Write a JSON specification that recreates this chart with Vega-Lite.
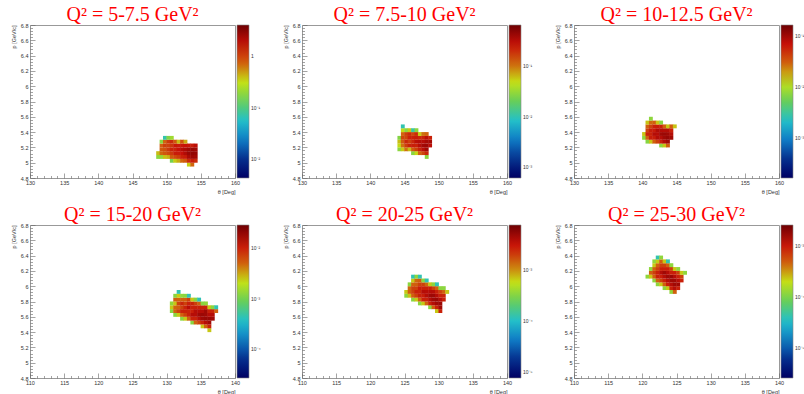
{
  "$schema": "https://vega.github.io/schema/vega-lite/v6.json",
  "background": "white",
  "padding": {"left": 10, "top": 4, "right": 0, "bottom": 0},
  "config": {
    "view": {"stroke": "#999", "strokeWidth": 1},
    "font": "Liberation Sans",
    "title": {"font": "Liberation Serif", "fontSize": 20, "fontWeight": "normal", "color": "#ff0000", "offset": -2, "anchor": "middle"},
    "axis": {"domain": false, "grid": false, "labelFont": "Liberation Sans", "labelFontSize": 5.5, "labelColor": "#333", "tickColor": "#666", "tickWidth": 0.6, "titleFont": "Liberation Sans", "titleFontSize": 5.5, "titleFontWeight": "normal", "titleColor": "#333", "titleAnchor": "end", "labelPadding": 7, "labelFlush": false, "labelOverlap": false},
    "axisX": {"titlePadding": 1},
    "axisY": {"titlePadding": 4},
    "legend": {"orient": "right", "offset": 2, "padding": 0, "gradientLength": 153, "gradientThickness": 12, "labelFont": "Liberation Sans", "labelFontSize": 5, "labelColor": "#333", "gradientStrokeColor": "#888", "gradientStrokeWidth": 0.6, "labelOffset": 2, "direction": "vertical"},
    "square": {"size": 15, "opacity": 1, "strokeWidth": 0}
  },
  "datasets": {
    "d1": [
      {"t":148.75,"p":5.075,"v":0.19},{"t":148.75,"p":5.125,"v":0.4},
      {"t":149.25,"p":5.075,"v":0.2},{"t":149.25,"p":5.125,"v":0.7},{"t":149.25,"p":5.175,"v":0.8},{"t":149.25,"p":5.225,"v":0.75},{"t":149.25,"p":5.275,"v":0.18},
      {"t":149.75,"p":5.075,"v":0.38},{"t":149.75,"p":5.125,"v":0.8},{"t":149.75,"p":5.175,"v":0.85},{"t":149.75,"p":5.225,"v":1.05},{"t":149.75,"p":5.275,"v":0.72},{"t":149.75,"p":5.325,"v":0.07},
      {"t":150.25,"p":5.075,"v":0.42},{"t":150.25,"p":5.125,"v":0.9},{"t":150.25,"p":5.175,"v":1.1},{"t":150.25,"p":5.225,"v":1.0},{"t":150.25,"p":5.275,"v":1.1},{"t":150.25,"p":5.325,"v":0.17},
      {"t":150.75,"p":5.025,"v":0.15},{"t":150.75,"p":5.075,"v":0.78},{"t":150.75,"p":5.125,"v":1.1},{"t":150.75,"p":5.175,"v":1.4},{"t":150.75,"p":5.225,"v":1.15},{"t":150.75,"p":5.275,"v":1.3},{"t":150.75,"p":5.325,"v":0.22},
      {"t":151.25,"p":5.025,"v":0.36},{"t":151.25,"p":5.075,"v":0.9},{"t":151.25,"p":5.125,"v":1.5},{"t":151.25,"p":5.175,"v":1.4},{"t":151.25,"p":5.225,"v":1.6},{"t":151.25,"p":5.275,"v":0.8},
      {"t":151.75,"p":5.025,"v":0.45},{"t":151.75,"p":5.075,"v":1.05},{"t":151.75,"p":5.125,"v":1.5},{"t":151.75,"p":5.175,"v":1.7},{"t":151.75,"p":5.225,"v":1.5},{"t":151.75,"p":5.275,"v":0.4},
      {"t":152.25,"p":5.025,"v":0.7},{"t":152.25,"p":5.075,"v":1.4},{"t":152.25,"p":5.125,"v":1.7},{"t":152.25,"p":5.175,"v":2.0},{"t":152.25,"p":5.225,"v":1.6},{"t":152.25,"p":5.275,"v":0.85},
      {"t":152.75,"p":5.025,"v":0.8},{"t":152.75,"p":5.075,"v":1.5},{"t":152.75,"p":5.125,"v":2.1},{"t":152.75,"p":5.175,"v":2.2},{"t":152.75,"p":5.225,"v":1.7},{"t":152.75,"p":5.275,"v":0.45},
      {"t":153.25,"p":4.975,"v":0.35},{"t":153.25,"p":5.025,"v":1.3},{"t":153.25,"p":5.075,"v":2.2},{"t":153.25,"p":5.125,"v":2.6},{"t":153.25,"p":5.175,"v":2.5},{"t":153.25,"p":5.225,"v":1.6},
      {"t":153.75,"p":4.975,"v":0.7},{"t":153.75,"p":5.025,"v":1.5},{"t":153.75,"p":5.075,"v":2.5},{"t":153.75,"p":5.125,"v":2.8},{"t":153.75,"p":5.175,"v":2.7},{"t":153.75,"p":5.225,"v":1.5},
      {"t":154.25,"p":5.025,"v":1.3},{"t":154.25,"p":5.075,"v":2.4},{"t":154.25,"p":5.125,"v":2.7},{"t":154.25,"p":5.175,"v":2.5},{"t":154.25,"p":5.225,"v":1.9}
    ],
    "d2": [
      {"t":144.25,"p":5.175,"v":0.028},{"t":144.25,"p":5.225,"v":0.05},{"t":144.25,"p":5.275,"v":0.06},{"t":144.25,"p":5.325,"v":0.026},
      {"t":144.75,"p":5.175,"v":0.055},{"t":144.75,"p":5.225,"v":0.1},{"t":144.75,"p":5.275,"v":0.12},{"t":144.75,"p":5.325,"v":0.15},{"t":144.75,"p":5.375,"v":0.11},{"t":144.75,"p":5.425,"v":0.05},{"t":144.75,"p":5.475,"v":0.01},
      {"t":145.25,"p":5.175,"v":0.1},{"t":145.25,"p":5.225,"v":0.16},{"t":145.25,"p":5.275,"v":0.21},{"t":145.25,"p":5.325,"v":0.15},{"t":145.25,"p":5.375,"v":0.16},{"t":145.25,"p":5.425,"v":0.028},
      {"t":145.75,"p":5.175,"v":0.06},{"t":145.75,"p":5.225,"v":0.22},{"t":145.75,"p":5.275,"v":0.16},{"t":145.75,"p":5.325,"v":0.22},{"t":145.75,"p":5.375,"v":0.2},{"t":145.75,"p":5.425,"v":0.055},
      {"t":146.25,"p":5.125,"v":0.027},{"t":146.25,"p":5.175,"v":0.12},{"t":146.25,"p":5.225,"v":0.23},{"t":146.25,"p":5.275,"v":0.21},{"t":146.25,"p":5.325,"v":0.22},{"t":146.25,"p":5.375,"v":0.15},{"t":146.25,"p":5.425,"v":0.011},
      {"t":146.75,"p":5.125,"v":0.05},{"t":146.75,"p":5.175,"v":0.16},{"t":146.75,"p":5.225,"v":0.22},{"t":146.75,"p":5.275,"v":0.3},{"t":146.75,"p":5.325,"v":0.23},{"t":146.75,"p":5.375,"v":0.2},{"t":146.75,"p":5.425,"v":0.028},
      {"t":147.25,"p":5.125,"v":0.11},{"t":147.25,"p":5.175,"v":0.22},{"t":147.25,"p":5.225,"v":0.31},{"t":147.25,"p":5.275,"v":0.32},{"t":147.25,"p":5.325,"v":0.21},{"t":147.25,"p":5.375,"v":0.055},
      {"t":147.75,"p":5.125,"v":0.15},{"t":147.75,"p":5.175,"v":0.3},{"t":147.75,"p":5.225,"v":0.38},{"t":147.75,"p":5.275,"v":0.31},{"t":147.75,"p":5.325,"v":0.22},{"t":147.75,"p":5.375,"v":0.1},
      {"t":148.25,"p":5.075,"v":0.028},{"t":148.25,"p":5.125,"v":0.21},{"t":148.25,"p":5.175,"v":0.38},{"t":148.25,"p":5.225,"v":0.4},{"t":148.25,"p":5.275,"v":0.36},{"t":148.25,"p":5.325,"v":0.3},{"t":148.25,"p":5.375,"v":0.11},
      {"t":148.75,"p":5.225,"v":0.3},{"t":148.75,"p":5.275,"v":0.37},{"t":148.75,"p":5.325,"v":0.22}
    ],
    "d3": [
      {"t":140.25,"p":5.325,"v":0.0075},{"t":140.25,"p":5.375,"v":0.015},
      {"t":140.75,"p":5.275,"v":0.007},{"t":140.75,"p":5.325,"v":0.03},{"t":140.75,"p":5.375,"v":0.058},{"t":140.75,"p":5.425,"v":0.042},{"t":140.75,"p":5.475,"v":0.03},{"t":140.75,"p":5.525,"v":0.015},
      {"t":141.25,"p":5.275,"v":0.015},{"t":141.25,"p":5.325,"v":0.06},{"t":141.25,"p":5.375,"v":0.057},{"t":141.25,"p":5.425,"v":0.06},{"t":141.25,"p":5.475,"v":0.041},{"t":141.25,"p":5.525,"v":0.028},{"t":141.25,"p":5.575,"v":0.0075},
      {"t":141.75,"p":5.275,"v":0.03},{"t":141.75,"p":5.325,"v":0.06},{"t":141.75,"p":5.375,"v":0.082},{"t":141.75,"p":5.425,"v":0.062},{"t":141.75,"p":5.475,"v":0.058},{"t":141.75,"p":5.525,"v":0.03},
      {"t":142.25,"p":5.275,"v":0.042},{"t":142.25,"p":5.325,"v":0.084},{"t":142.25,"p":5.375,"v":0.08},{"t":142.25,"p":5.425,"v":0.085},{"t":142.25,"p":5.475,"v":0.06},{"t":142.25,"p":5.525,"v":0.015},
      {"t":142.75,"p":5.225,"v":0.0074},{"t":142.75,"p":5.275,"v":0.06},{"t":142.75,"p":5.325,"v":0.083},{"t":142.75,"p":5.375,"v":0.1},{"t":142.75,"p":5.425,"v":0.084},{"t":142.75,"p":5.475,"v":0.058},{"t":142.75,"p":5.525,"v":0.007},
      {"t":143.25,"p":5.225,"v":0.015},{"t":143.25,"p":5.275,"v":0.085},{"t":143.25,"p":5.325,"v":0.1},{"t":143.25,"p":5.375,"v":0.105},{"t":143.25,"p":5.425,"v":0.082},{"t":143.25,"p":5.475,"v":0.03},
      {"t":143.75,"p":5.225,"v":0.03},{"t":143.75,"p":5.275,"v":0.1},{"t":143.75,"p":5.325,"v":0.11},{"t":143.75,"p":5.375,"v":0.1},{"t":143.75,"p":5.425,"v":0.083},{"t":143.75,"p":5.475,"v":0.015},
      {"t":144.25,"p":5.325,"v":0.1},{"t":144.25,"p":5.375,"v":0.082},{"t":144.25,"p":5.425,"v":0.059},{"t":144.25,"p":5.475,"v":0.03},
      {"t":144.75,"p":5.475,"v":0.015}
    ],
    "d4": [
      {"t":130.75,"p":5.675,"v":0.0012},{"t":130.75,"p":5.725,"v":0.0025},{"t":130.75,"p":5.775,"v":0.0013},
      {"t":131.25,"p":5.625,"v":0.0012},{"t":131.25,"p":5.675,"v":0.005},{"t":131.25,"p":5.725,"v":0.0048},{"t":131.25,"p":5.775,"v":0.0025},{"t":131.25,"p":5.825,"v":0.005},{"t":131.25,"p":5.875,"v":0.0012},
      {"t":131.75,"p":5.625,"v":0.0025},{"t":131.75,"p":5.675,"v":0.007},{"t":131.75,"p":5.725,"v":0.005},{"t":131.75,"p":5.775,"v":0.0068},{"t":131.75,"p":5.825,"v":0.0049},{"t":131.75,"p":5.875,"v":0.0024},{"t":131.75,"p":5.925,"v":0.00045},
      {"t":132.25,"p":5.575,"v":0.0012},{"t":132.25,"p":5.625,"v":0.005},{"t":132.25,"p":5.675,"v":0.0098},{"t":132.25,"p":5.725,"v":0.007},{"t":132.25,"p":5.775,"v":0.0095},{"t":132.25,"p":5.825,"v":0.005},{"t":132.25,"p":5.875,"v":0.0013},
      {"t":132.75,"p":5.575,"v":0.0025},{"t":132.75,"p":5.625,"v":0.007},{"t":132.75,"p":5.675,"v":0.0099},{"t":132.75,"p":5.725,"v":0.0097},{"t":132.75,"p":5.775,"v":0.007},{"t":132.75,"p":5.825,"v":0.005},{"t":132.75,"p":5.875,"v":0.0012},
      {"t":133.25,"p":5.575,"v":0.005},{"t":133.25,"p":5.625,"v":0.0098},{"t":133.25,"p":5.675,"v":0.0095},{"t":133.25,"p":5.725,"v":0.0135},{"t":133.25,"p":5.775,"v":0.0098},{"t":133.25,"p":5.825,"v":0.0069},{"t":133.25,"p":5.875,"v":0.00044},
      {"t":133.75,"p":5.525,"v":0.0012},{"t":133.75,"p":5.575,"v":0.0098},{"t":133.75,"p":5.625,"v":0.014},{"t":133.75,"p":5.675,"v":0.01},{"t":133.75,"p":5.725,"v":0.0097},{"t":133.75,"p":5.775,"v":0.0096},{"t":133.75,"p":5.825,"v":0.0025},
      {"t":134.25,"p":5.525,"v":0.0049},{"t":134.25,"p":5.575,"v":0.0098},{"t":134.25,"p":5.625,"v":0.0138},{"t":134.25,"p":5.675,"v":0.014},{"t":134.25,"p":5.725,"v":0.0099},{"t":134.25,"p":5.775,"v":0.007},{"t":134.25,"p":5.825,"v":0.0012},
      {"t":134.75,"p":5.525,"v":0.0069},{"t":134.75,"p":5.575,"v":0.0138},{"t":134.75,"p":5.625,"v":0.017},{"t":134.75,"p":5.675,"v":0.0137},{"t":134.75,"p":5.725,"v":0.0098},{"t":134.75,"p":5.775,"v":0.0049},{"t":134.75,"p":5.825,"v":0.00043},
      {"t":135.25,"p":5.475,"v":0.0025},{"t":135.25,"p":5.525,"v":0.0098},{"t":135.25,"p":5.575,"v":0.017},{"t":135.25,"p":5.625,"v":0.018},{"t":135.25,"p":5.675,"v":0.014},{"t":135.25,"p":5.725,"v":0.0097},{"t":135.25,"p":5.775,"v":0.0012},
      {"t":135.75,"p":5.475,"v":0.005},{"t":135.75,"p":5.525,"v":0.0138},{"t":135.75,"p":5.575,"v":0.018},{"t":135.75,"p":5.625,"v":0.017},{"t":135.75,"p":5.675,"v":0.017},{"t":135.75,"p":5.725,"v":0.0098},{"t":135.75,"p":5.775,"v":0.0013},
      {"t":136.25,"p":5.425,"v":0.0025},{"t":136.25,"p":5.475,"v":0.0098},{"t":136.25,"p":5.525,"v":0.017},{"t":136.25,"p":5.575,"v":0.018},{"t":136.25,"p":5.625,"v":0.0138},{"t":136.25,"p":5.675,"v":0.0098},{"t":136.25,"p":5.725,"v":0.0025},
      {"t":136.75,"p":5.575,"v":0.017},{"t":136.75,"p":5.625,"v":0.014},{"t":136.75,"p":5.675,"v":0.0097},{"t":136.75,"p":5.725,"v":0.0012},
      {"t":137.25,"p":5.675,"v":0.0049},{"t":137.25,"p":5.725,"v":0.00044}
    ],
    "d5": [
      {"t":125.25,"p":5.875,"v":0.00034},{"t":125.25,"p":5.925,"v":0.00068},
      {"t":125.75,"p":5.875,"v":0.0007},{"t":125.75,"p":5.925,"v":0.0014},{"t":125.75,"p":5.975,"v":0.0013},{"t":125.75,"p":6.025,"v":0.00034},
      {"t":126.25,"p":5.825,"v":0.00033},{"t":126.25,"p":5.875,"v":0.0014},{"t":126.25,"p":5.925,"v":0.0019},{"t":126.25,"p":5.975,"v":0.0019},{"t":126.25,"p":6.025,"v":0.00135},{"t":126.25,"p":6.075,"v":0.00068},{"t":126.25,"p":6.125,"v":0.00012},
      {"t":126.75,"p":5.825,"v":0.00068},{"t":126.75,"p":5.875,"v":0.0019},{"t":126.75,"p":5.925,"v":0.0027},{"t":126.75,"p":5.975,"v":0.0019},{"t":126.75,"p":6.025,"v":0.0014},{"t":126.75,"p":6.075,"v":0.0013},{"t":126.75,"p":6.125,"v":0.00034},
      {"t":127.25,"p":5.775,"v":0.00034},{"t":127.25,"p":5.825,"v":0.00135},{"t":127.25,"p":5.875,"v":0.0027},{"t":127.25,"p":5.925,"v":0.0026},{"t":127.25,"p":5.975,"v":0.0028},{"t":127.25,"p":6.025,"v":0.0019},{"t":127.25,"p":6.075,"v":0.0014},{"t":127.25,"p":6.125,"v":0.00012},
      {"t":127.75,"p":5.775,"v":0.00068},{"t":127.75,"p":5.825,"v":0.0027},{"t":127.75,"p":5.875,"v":0.0028},{"t":127.75,"p":5.925,"v":0.0038},{"t":127.75,"p":5.975,"v":0.0027},{"t":127.75,"p":6.025,"v":0.0019},{"t":127.75,"p":6.075,"v":0.00034},
      {"t":128.25,"p":5.775,"v":0.00135},{"t":128.25,"p":5.825,"v":0.0027},{"t":128.25,"p":5.875,"v":0.0038},{"t":128.25,"p":5.925,"v":0.0037},{"t":128.25,"p":5.975,"v":0.0027},{"t":128.25,"p":6.025,"v":0.0013},{"t":128.25,"p":6.075,"v":0.00012},
      {"t":128.75,"p":5.725,"v":0.00034},{"t":128.75,"p":5.775,"v":0.0027},{"t":128.75,"p":5.825,"v":0.0038},{"t":128.75,"p":5.875,"v":0.0047},{"t":128.75,"p":5.925,"v":0.0038},{"t":128.75,"p":5.975,"v":0.0027},{"t":128.75,"p":6.025,"v":0.00068},
      {"t":129.25,"p":5.725,"v":0.0014},{"t":129.25,"p":5.775,"v":0.0038},{"t":129.25,"p":5.825,"v":0.0047},{"t":129.25,"p":5.875,"v":0.0048},{"t":129.25,"p":5.925,"v":0.0038},{"t":129.25,"p":5.975,"v":0.0019},{"t":129.25,"p":6.025,"v":0.00034},
      {"t":129.75,"p":5.675,"v":0.00068},{"t":129.75,"p":5.725,"v":0.0027},{"t":129.75,"p":5.775,"v":0.0047},{"t":129.75,"p":5.825,"v":0.0049},{"t":129.75,"p":5.875,"v":0.0038},{"t":129.75,"p":5.925,"v":0.0027},{"t":129.75,"p":5.975,"v":0.00135},{"t":129.75,"p":6.025,"v":0.00012},
      {"t":130.25,"p":5.675,"v":0.0027},{"t":130.25,"p":5.725,"v":0.0047},{"t":130.25,"p":5.775,"v":0.0048},{"t":130.25,"p":5.825,"v":0.0038},{"t":130.25,"p":5.875,"v":0.0027},{"t":130.25,"p":5.925,"v":0.0019},{"t":130.25,"p":5.975,"v":0.00034},
      {"t":130.75,"p":5.825,"v":0.0027},{"t":130.75,"p":5.875,"v":0.0026},{"t":130.75,"p":5.925,"v":0.0014},{"t":130.75,"p":5.975,"v":0.00034},
      {"t":131.25,"p":5.925,"v":0.00068}
    ],
    "d6": [
      {"t":120.75,"p":6.125,"v":0.00012},
      {"t":121.25,"p":6.125,"v":0.00023},{"t":121.25,"p":6.175,"v":0.00047},{"t":121.25,"p":6.225,"v":0.00012},
      {"t":121.75,"p":6.075,"v":0.00012},{"t":121.75,"p":6.125,"v":0.00047},{"t":121.75,"p":6.175,"v":0.00066},{"t":121.75,"p":6.225,"v":0.00046},{"t":121.75,"p":6.275,"v":0.00023},{"t":121.75,"p":6.325,"v":0.00012},
      {"t":122.25,"p":6.025,"v":0.00012},{"t":122.25,"p":6.075,"v":0.00047},{"t":122.25,"p":6.125,"v":0.00093},{"t":122.25,"p":6.175,"v":0.00092},{"t":122.25,"p":6.225,"v":0.00066},{"t":122.25,"p":6.275,"v":0.00047},{"t":122.25,"p":6.325,"v":0.00023},{"t":122.25,"p":6.375,"v":0.000042},
      {"t":122.75,"p":6.025,"v":0.00023},{"t":122.75,"p":6.075,"v":0.00066},{"t":122.75,"p":6.125,"v":0.00093},{"t":122.75,"p":6.175,"v":0.0013},{"t":122.75,"p":6.225,"v":0.00093},{"t":122.75,"p":6.275,"v":0.00066},{"t":122.75,"p":6.325,"v":0.00047},{"t":122.75,"p":6.375,"v":0.00012},
      {"t":123.25,"p":5.975,"v":0.00012},{"t":123.25,"p":6.025,"v":0.00047},{"t":123.25,"p":6.075,"v":0.00093},{"t":123.25,"p":6.125,"v":0.0013},{"t":123.25,"p":6.175,"v":0.0016},{"t":123.25,"p":6.225,"v":0.00093},{"t":123.25,"p":6.275,"v":0.00066},{"t":123.25,"p":6.325,"v":0.00023},
      {"t":123.75,"p":5.975,"v":0.00023},{"t":123.75,"p":6.025,"v":0.00093},{"t":123.75,"p":6.075,"v":0.0013},{"t":123.75,"p":6.125,"v":0.0016},{"t":123.75,"p":6.175,"v":0.0013},{"t":123.75,"p":6.225,"v":0.00093},{"t":123.75,"p":6.275,"v":0.00047},{"t":123.75,"p":6.325,"v":0.000042},
      {"t":124.25,"p":5.925,"v":0.00012},{"t":124.25,"p":5.975,"v":0.00093},{"t":124.25,"p":6.025,"v":0.0013},{"t":124.25,"p":6.075,"v":0.0016},{"t":124.25,"p":6.125,"v":0.0017},{"t":124.25,"p":6.175,"v":0.00093},{"t":124.25,"p":6.225,"v":0.00066},{"t":124.25,"p":6.275,"v":0.00012},
      {"t":124.75,"p":5.925,"v":0.00047},{"t":124.75,"p":5.975,"v":0.0013},{"t":124.75,"p":6.025,"v":0.0016},{"t":124.75,"p":6.075,"v":0.0016},{"t":124.75,"p":6.125,"v":0.0013},{"t":124.75,"p":6.175,"v":0.00093},{"t":124.75,"p":6.225,"v":0.00023},
      {"t":125.25,"p":5.975,"v":0.00093},{"t":125.25,"p":6.025,"v":0.0016},{"t":125.25,"p":6.075,"v":0.0013},{"t":125.25,"p":6.125,"v":0.00093},{"t":125.25,"p":6.175,"v":0.00066},{"t":125.25,"p":6.225,"v":0.00012},
      {"t":125.75,"p":6.075,"v":0.00093},{"t":125.75,"p":6.125,"v":0.00066},{"t":125.75,"p":6.175,"v":0.00023},
      {"t":126.25,"p":6.175,"v":0.00012}
    ]
  },
  "columns": 3,
  "spacing": {"row": 47, "column": 67},
  "bounds": "flush",
  "resolve": {"scale": {"x": "independent", "y": "independent", "color": "independent"}, "axis": {"x": "independent", "y": "independent"}, "legend": {"color": "independent"}},
  "concat": [
    {
      "title": "Q² = 5-7.5 GeV²", "width": 205, "height": 153, "data": {"name": "d1"},
      "mark": {"type": "square"},
      "encoding": {
        "x": {"field": "t", "type": "quantitative", "scale": {"domain": [130, 160], "nice": false, "zero": false}, "axis": {"title": "θ [Deg]", "values": [130,131,132,133,134,135,136,137,138,139,140,141,142,143,144,145,146,147,148,149,150,151,152,153,154,155,156,157,158,159,160], "labelExpr": "datum.value % 5 == 0 ? datum.label : ''", "tickSize": {"condition": {"test": "datum.value % 5 == 0", "value": -5}, "value": -2.5}}},
        "y": {"field": "p", "type": "quantitative", "scale": {"domain": [4.8, 6.8], "nice": false, "zero": false}, "axis": {"title": "p [GeV/c]", "values": [4.8,4.84,4.88,4.92,4.96,5,5.04,5.08,5.12,5.16,5.2,5.24,5.28,5.32,5.36,5.4,5.44,5.48,5.52,5.56,5.6,5.64,5.68,5.72,5.76,5.8,5.84,5.88,5.92,5.96,6,6.04,6.08,6.12,6.16,6.2,6.24,6.28,6.32,6.36,6.4,6.44,6.48,6.52,6.56,6.6,6.64,6.68,6.72,6.76,6.8], "labelExpr": "abs(datum.value*5-round(datum.value*5))<0.01 ? ''+round(datum.value*10)/10 : ''", "tickSize": {"condition": {"test": "abs(datum.value*5-round(datum.value*5))<0.01", "value": -5}, "value": -2.5}}},
        "color": {"field": "v", "type": "quantitative", "scale": {"type": "log", "domain": [0.0043, 4], "range": ["#000063","#05308e","#0f7cc6","#23c0c9","#66ce5a","#c4e216","#d0610d","#c71008","#6e0002"], "interpolate": "rgb"}, "legend": {"title": null, "values": [0.01, 0.1, 1], "labelExpr": "datum.value > 0.5 ? '1' : datum.value > 0.05 ? '10⁻¹' : datum.value > 0.005 ? '10⁻²' : datum.value > 0.0005 ? '10⁻³' : datum.value > 0.00005 ? '10⁻⁴' : '10⁻⁵'"}}
      }
    },
    {
      "title": "Q² = 7.5-10 GeV²", "width": 205, "height": 153, "data": {"name": "d2"},
      "mark": {"type": "square"},
      "encoding": {
        "x": {"field": "t", "type": "quantitative", "scale": {"domain": [130, 160], "nice": false, "zero": false}, "axis": {"title": "θ [Deg]", "values": [130,131,132,133,134,135,136,137,138,139,140,141,142,143,144,145,146,147,148,149,150,151,152,153,154,155,156,157,158,159,160], "labelExpr": "datum.value % 5 == 0 ? datum.label : ''", "tickSize": {"condition": {"test": "datum.value % 5 == 0", "value": -5}, "value": -2.5}}},
        "y": {"field": "p", "type": "quantitative", "scale": {"domain": [4.8, 6.8], "nice": false, "zero": false}, "axis": {"title": "p [GeV/c]", "values": [4.8,4.84,4.88,4.92,4.96,5,5.04,5.08,5.12,5.16,5.2,5.24,5.28,5.32,5.36,5.4,5.44,5.48,5.52,5.56,5.6,5.64,5.68,5.72,5.76,5.8,5.84,5.88,5.92,5.96,6,6.04,6.08,6.12,6.16,6.2,6.24,6.28,6.32,6.36,6.4,6.44,6.48,6.52,6.56,6.6,6.64,6.68,6.72,6.76,6.8], "labelExpr": "abs(datum.value*5-round(datum.value*5))<0.01 ? ''+round(datum.value*10)/10 : ''", "tickSize": {"condition": {"test": "abs(datum.value*5-round(datum.value*5))<0.01", "value": -5}, "value": -2.5}}},
        "color": {"field": "v", "type": "quantitative", "scale": {"type": "log", "domain": [0.00062, 0.63], "range": ["#000063","#05308e","#0f7cc6","#23c0c9","#66ce5a","#c4e216","#d0610d","#c71008","#6e0002"], "interpolate": "rgb"}, "legend": {"title": null, "values": [0.001, 0.01, 0.1], "labelExpr": "datum.value > 0.5 ? '1' : datum.value > 0.05 ? '10⁻¹' : datum.value > 0.005 ? '10⁻²' : datum.value > 0.0005 ? '10⁻³' : datum.value > 0.00005 ? '10⁻⁴' : '10⁻⁵'"}}
      }
    },
    {
      "title": "Q² = 10-12.5 GeV²", "width": 205, "height": 153, "data": {"name": "d3"},
      "mark": {"type": "square"},
      "encoding": {
        "x": {"field": "t", "type": "quantitative", "scale": {"domain": [130, 160], "nice": false, "zero": false}, "axis": {"title": "θ [Deg]", "values": [130,131,132,133,134,135,136,137,138,139,140,141,142,143,144,145,146,147,148,149,150,151,152,153,154,155,156,157,158,159,160], "labelExpr": "datum.value % 5 == 0 ? datum.label : ''", "tickSize": {"condition": {"test": "datum.value % 5 == 0", "value": -5}, "value": -2.5}}},
        "y": {"field": "p", "type": "quantitative", "scale": {"domain": [4.8, 6.8], "nice": false, "zero": false}, "axis": {"title": "p [GeV/c]", "values": [4.8,4.84,4.88,4.92,4.96,5,5.04,5.08,5.12,5.16,5.2,5.24,5.28,5.32,5.36,5.4,5.44,5.48,5.52,5.56,5.6,5.64,5.68,5.72,5.76,5.8,5.84,5.88,5.92,5.96,6,6.04,6.08,6.12,6.16,6.2,6.24,6.28,6.32,6.36,6.4,6.44,6.48,6.52,6.56,6.6,6.64,6.68,6.72,6.76,6.8], "labelExpr": "abs(datum.value*5-round(datum.value*5))<0.01 ? ''+round(datum.value*10)/10 : ''", "tickSize": {"condition": {"test": "abs(datum.value*5-round(datum.value*5))<0.01", "value": -5}, "value": -2.5}}},
        "color": {"field": "v", "type": "quantitative", "scale": {"type": "log", "domain": [0.000166, 0.163], "range": ["#000063","#05308e","#0f7cc6","#23c0c9","#66ce5a","#c4e216","#d0610d","#c71008","#6e0002"], "interpolate": "rgb"}, "legend": {"title": null, "values": [0.001, 0.01, 0.1], "labelExpr": "datum.value > 0.5 ? '1' : datum.value > 0.05 ? '10⁻¹' : datum.value > 0.005 ? '10⁻²' : datum.value > 0.0005 ? '10⁻³' : datum.value > 0.00005 ? '10⁻⁴' : '10⁻⁵'"}}
      }
    },
    {
      "title": "Q² = 15-20 GeV²", "width": 205, "height": 153, "data": {"name": "d4"},
      "mark": {"type": "square"},
      "encoding": {
        "x": {"field": "t", "type": "quantitative", "scale": {"domain": [110, 140], "nice": false, "zero": false}, "axis": {"title": "θ [Deg]", "values": [110,111,112,113,114,115,116,117,118,119,120,121,122,123,124,125,126,127,128,129,130,131,132,133,134,135,136,137,138,139,140], "labelExpr": "datum.value % 5 == 0 ? datum.label : ''", "tickSize": {"condition": {"test": "datum.value % 5 == 0", "value": -5}, "value": -2.5}}},
        "y": {"field": "p", "type": "quantitative", "scale": {"domain": [4.8, 6.8], "nice": false, "zero": false}, "axis": {"title": "p [GeV/c]", "values": [4.8,4.84,4.88,4.92,4.96,5,5.04,5.08,5.12,5.16,5.2,5.24,5.28,5.32,5.36,5.4,5.44,5.48,5.52,5.56,5.6,5.64,5.68,5.72,5.76,5.8,5.84,5.88,5.92,5.96,6,6.04,6.08,6.12,6.16,6.2,6.24,6.28,6.32,6.36,6.4,6.44,6.48,6.52,6.56,6.6,6.64,6.68,6.72,6.76,6.8], "labelExpr": "abs(datum.value*5-round(datum.value*5))<0.01 ? ''+round(datum.value*10)/10 : ''", "tickSize": {"condition": {"test": "abs(datum.value*5-round(datum.value*5))<0.01", "value": -5}, "value": -2.5}}},
        "color": {"field": "v", "type": "quantitative", "scale": {"type": "log", "domain": [0.0000275, 0.028], "range": ["#000063","#05308e","#0f7cc6","#23c0c9","#66ce5a","#c4e216","#d0610d","#c71008","#6e0002"], "interpolate": "rgb"}, "legend": {"title": null, "values": [0.0001, 0.001, 0.01], "labelExpr": "datum.value > 0.5 ? '1' : datum.value > 0.05 ? '10⁻¹' : datum.value > 0.005 ? '10⁻²' : datum.value > 0.0005 ? '10⁻³' : datum.value > 0.00005 ? '10⁻⁴' : '10⁻⁵'"}}
      }
    },
    {
      "title": "Q² = 20-25 GeV²", "width": 205, "height": 153, "data": {"name": "d5"},
      "mark": {"type": "square"},
      "encoding": {
        "x": {"field": "t", "type": "quantitative", "scale": {"domain": [110, 140], "nice": false, "zero": false}, "axis": {"title": "θ [Deg]", "values": [110,111,112,113,114,115,116,117,118,119,120,121,122,123,124,125,126,127,128,129,130,131,132,133,134,135,136,137,138,139,140], "labelExpr": "datum.value % 5 == 0 ? datum.label : ''", "tickSize": {"condition": {"test": "datum.value % 5 == 0", "value": -5}, "value": -2.5}}},
        "y": {"field": "p", "type": "quantitative", "scale": {"domain": [4.8, 6.8], "nice": false, "zero": false}, "axis": {"title": "p [GeV/c]", "values": [4.8,4.84,4.88,4.92,4.96,5,5.04,5.08,5.12,5.16,5.2,5.24,5.28,5.32,5.36,5.4,5.44,5.48,5.52,5.56,5.6,5.64,5.68,5.72,5.76,5.8,5.84,5.88,5.92,5.96,6,6.04,6.08,6.12,6.16,6.2,6.24,6.28,6.32,6.36,6.4,6.44,6.48,6.52,6.56,6.6,6.64,6.68,6.72,6.76,6.8], "labelExpr": "abs(datum.value*5-round(datum.value*5))<0.01 ? ''+round(datum.value*10)/10 : ''", "tickSize": {"condition": {"test": "abs(datum.value*5-round(datum.value*5))<0.01", "value": -5}, "value": -2.5}}},
        "color": {"field": "v", "type": "quantitative", "scale": {"type": "log", "domain": [0.0000076, 0.0076], "range": ["#000063","#05308e","#0f7cc6","#23c0c9","#66ce5a","#c4e216","#d0610d","#c71008","#6e0002"], "interpolate": "rgb"}, "legend": {"title": null, "values": [0.00001, 0.0001, 0.001], "labelExpr": "datum.value > 0.5 ? '1' : datum.value > 0.05 ? '10⁻¹' : datum.value > 0.005 ? '10⁻²' : datum.value > 0.0005 ? '10⁻³' : datum.value > 0.00005 ? '10⁻⁴' : '10⁻⁵'"}}
      }
    },
    {
      "title": "Q² = 25-30 GeV²", "width": 205, "height": 153, "data": {"name": "d6"},
      "mark": {"type": "square"},
      "encoding": {
        "x": {"field": "t", "type": "quantitative", "scale": {"domain": [110, 140], "nice": false, "zero": false}, "axis": {"title": "θ [Deg]", "values": [110,111,112,113,114,115,116,117,118,119,120,121,122,123,124,125,126,127,128,129,130,131,132,133,134,135,136,137,138,139,140], "labelExpr": "datum.value % 5 == 0 ? datum.label : ''", "tickSize": {"condition": {"test": "datum.value % 5 == 0", "value": -5}, "value": -2.5}}},
        "y": {"field": "p", "type": "quantitative", "scale": {"domain": [4.8, 6.8], "nice": false, "zero": false}, "axis": {"title": "p [GeV/c]", "values": [4.8,4.84,4.88,4.92,4.96,5,5.04,5.08,5.12,5.16,5.2,5.24,5.28,5.32,5.36,5.4,5.44,5.48,5.52,5.56,5.6,5.64,5.68,5.72,5.76,5.8,5.84,5.88,5.92,5.96,6,6.04,6.08,6.12,6.16,6.2,6.24,6.28,6.32,6.36,6.4,6.44,6.48,6.52,6.56,6.6,6.64,6.68,6.72,6.76,6.8], "labelExpr": "abs(datum.value*5-round(datum.value*5))<0.01 ? ''+round(datum.value*10)/10 : ''", "tickSize": {"condition": {"test": "abs(datum.value*5-round(datum.value*5))<0.01", "value": -5}, "value": -2.5}}},
        "color": {"field": "v", "type": "quantitative", "scale": {"type": "log", "domain": [0.0000026, 0.0026], "range": ["#000063","#05308e","#0f7cc6","#23c0c9","#66ce5a","#c4e216","#d0610d","#c71008","#6e0002"], "interpolate": "rgb"}, "legend": {"title": null, "values": [0.00001, 0.0001, 0.001], "labelExpr": "datum.value > 0.5 ? '1' : datum.value > 0.05 ? '10⁻¹' : datum.value > 0.005 ? '10⁻²' : datum.value > 0.0005 ? '10⁻³' : datum.value > 0.00005 ? '10⁻⁴' : '10⁻⁵'"}}
      }
    }
  ]
}
